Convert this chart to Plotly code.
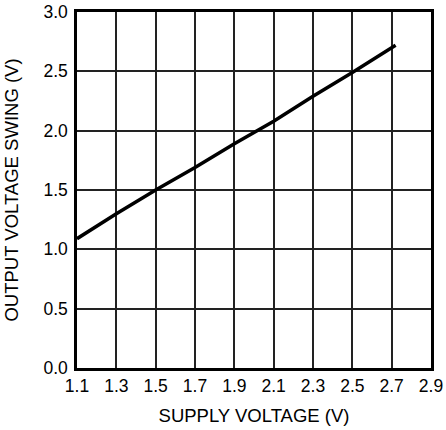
import plotly.graph_objects as go

# Output swing vs. supply voltage
supply_v = [1.1, 1.3, 1.5, 1.7, 1.9, 2.1, 2.3, 2.5, 2.72]
swing_v = [1.09, 1.3, 1.5, 1.69, 1.89, 2.08, 2.29, 2.49, 2.72]

x_ticks = [1.1, 1.3, 1.5, 1.7, 1.9, 2.1, 2.3, 2.5, 2.7, 2.9]
y_ticks = [0.0, 0.5, 1.0, 1.5, 2.0, 2.5, 3.0]

FONT = "Liberation Sans, Arial"

fig = go.Figure(
    go.Scatter(
        x=supply_v, y=swing_v, mode="lines",
        line=dict(color="black", width=3.5),
        showlegend=False,
    )
)

axis_common = dict(
    showgrid=True, gridcolor="#222222", gridwidth=1.5,
    showline=True, linecolor="black", linewidth=2.5, mirror=True,
    zeroline=False, ticks="", automargin=False,
    tickfont=dict(family=FONT, size=17.5, color="black"),
    title_font=dict(family=FONT, size=18.5, color="black"),
)

fig.update_xaxes(
    range=[1.1, 2.9], tickvals=x_ticks, ticktext=[f"{v:.1f}" for v in x_ticks],
    title_text="SUPPLY VOLTAGE (V)", title_standoff=15, **axis_common,
)
fig.update_yaxes(
    range=[0, 3.0], tickvals=y_ticks, ticktext=[f"{v:.1f}" for v in y_ticks],
    ticklabelstandoff=3,
    title_text="OUTPUT VOLTAGE SWING (V)", title_standoff=20, **axis_common,
)

fig.update_layout(
    width=446, height=430,
    margin=dict(l=77, r=15, t=12, b=62),
    plot_bgcolor="white", paper_bgcolor="white",
)

fig.write_html("out.html")
